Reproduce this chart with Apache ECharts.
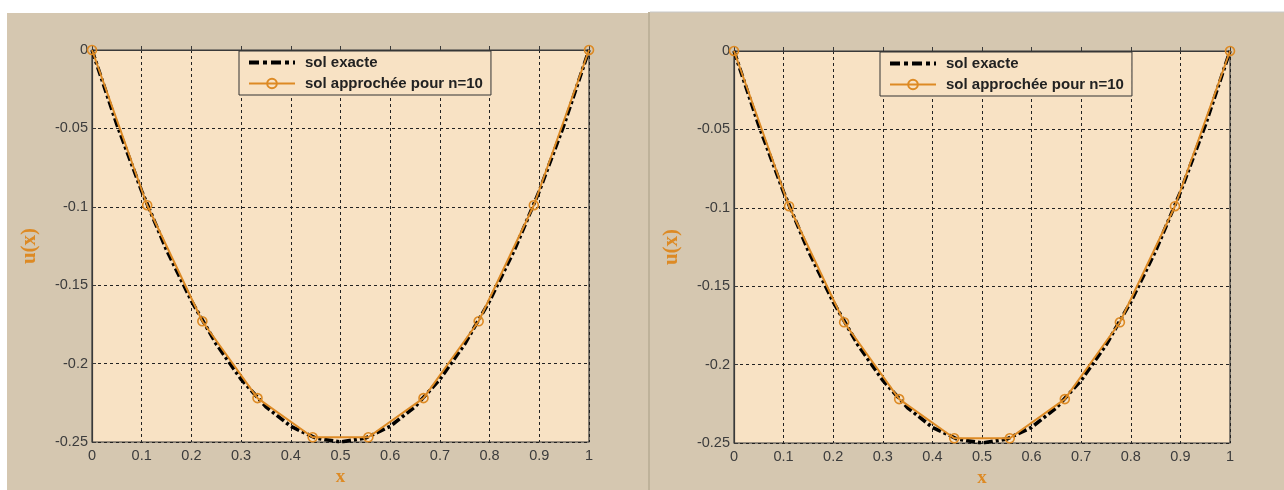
<!DOCTYPE html>
<html>
<head>
<meta charset="utf-8">
<script src="https://cdn.jsdelivr.net/npm/echarts@6/dist/echarts.min.js"></script>
<style>
  html, body { margin: 0; padding: 0; background: #fff; }
  #chart { width: 1284px; height: 490px; }
</style>
</head>
<body>
<div id="chart"></div>
<script>
// exact solution, read on a 0.05 grid
const exactX = [0, 0.05, 0.1, 0.15, 0.2, 0.25, 0.3, 0.35, 0.4, 0.45, 0.5,
  0.55, 0.6, 0.65, 0.7, 0.75, 0.8, 0.85, 0.9, 0.95, 1];
const exactY = [0, -0.0475, -0.09, -0.1275, -0.16, -0.1875, -0.21, -0.2275, -0.24, -0.2475, -0.25,
  -0.2475, -0.24, -0.2275, -0.21, -0.1875, -0.16, -0.1275, -0.09, -0.0475, 0];
// approximated solution, n=10 nodes
const approxX = [0, 0.111, 0.222, 0.333, 0.444, 0.556, 0.667, 0.778, 0.889, 1];
const approxY = [0, -0.099, -0.173, -0.222, -0.247, -0.247, -0.222, -0.173, -0.099, 0];

const names = ["sol exacte", "sol approchée pour n=10"];
const panelBg = "#d5c7b0";
const plotBg = "#f8e2c4";
const orange = "#dd8a24";
const dashDot = [9, 3, 3, 3];

const chart = echarts.init(document.getElementById("chart"));

const grids = [
  { left: 92, top: 50, width: 497, height: 392 },
  { left: 734, top: 51, width: 496, height: 392 }
];

function zip(xs, ys) {
  return xs.map((x, i) => [x, ys[i]]);
}

const xAxes = [], yAxes = [], series = [], legends = [];
grids.forEach((g, i) => {
  xAxes.push({
    gridIndex: i,
    type: "value",
    min: 0,
    max: 1,
    interval: 0.1,
    name: "x",
    nameLocation: "middle",
    nameGap: 26,
    nameTextStyle: { color: orange, fontFamily: "Liberation Serif", fontWeight: "bold", fontSize: 19 },
    axisLine: { lineStyle: { color: "#3a3a3a", width: 1.2 } },
    axisTick: { inside: true, length: 4, lineStyle: { color: "#3a3a3a" } },
    axisLabel: {
      color: "#3c3c3c", fontSize: 14.5, fontFamily: "Liberation Sans", margin: 6,
      formatter: v => String(+v.toFixed(1))
    },
    splitLine: { show: true, lineStyle: { color: "#222", type: [3, 3], width: 1 } }
  });
  yAxes.push({
    gridIndex: i,
    type: "value",
    min: -0.25,
    max: 0,
    interval: 0.05,
    name: "u(x)",
    nameLocation: "middle",
    nameRotate: 90,
    nameGap: 52,
    nameTextStyle: { color: orange, fontFamily: "Liberation Serif", fontWeight: "bold", fontSize: 21 },
    axisLine: { lineStyle: { color: "#3a3a3a", width: 1.2 } },
    axisTick: { inside: true, length: 4, lineStyle: { color: "#3a3a3a" } },
    axisLabel: {
      color: "#3c3c3c", fontSize: 14.5, fontFamily: "Liberation Sans", margin: 4,
      formatter: v => String(+v.toFixed(2))
    },
    splitLine: { show: true, lineStyle: { color: "#222", type: [3, 3], width: 1 } }
  });
  series.push({
    name: names[0],
    type: "line",
    xAxisIndex: i,
    yAxisIndex: i,
    data: zip(exactX, exactY),
    showSymbol: false,
    symbol: "none",
    lineStyle: { color: "#000", width: 3.6, type: dashDot },
    itemStyle: { color: "#000" },
    animation: false,
    z: 3
  });
  series.push({
    name: names[1],
    type: "line",
    xAxisIndex: i,
    yAxisIndex: i,
    data: zip(approxX, approxY),
    symbol: "circle",
    symbolSize: 9,
    clip: false,
    lineStyle: { color: orange, width: 2 },
    itemStyle: { color: "rgba(0,0,0,0)", borderColor: orange, borderWidth: 1.6 },
    animation: false,
    z: 4
  });
  legends.push({
    orient: "vertical",
    left: i === 0 ? 239 : 880,
    top: i === 0 ? 51 : 52,
    data: [
      { name: names[0], itemStyle: { opacity: 0 }, lineStyle: { width: 4, type: [10, 4, 4, 4], color: "#000" } },
      { name: names[1] }
    ],
    backgroundColor: plotBg,
    borderColor: "#333",
    borderWidth: 1,
    padding: [4, 8, 4, 8],
    itemWidth: 46,
    itemHeight: 12,
    itemGap: 6,
    textStyle: { color: "#222", fontSize: 15, fontWeight: "bold", fontFamily: "Liberation Sans", padding: [0, 0, 0, 5] },
    selectedMode: false
  });
});

chart.setOption({
  animation: false,
  graphic: [
    { type: "rect", shape: { x: 7, y: 13, width: 641, height: 477 }, style: { fill: panelBg }, z: -10 },
    { type: "rect", shape: { x: 650, y: 12, width: 634, height: 478 }, style: { fill: panelBg }, z: -10 },
    { type: "line", shape: { x1: 649, y1: 12, x2: 649, y2: 490 }, style: { stroke: "#a89878", lineWidth: 1.5 }, z: -9 },
    { type: "line", shape: { x1: 650, y1: 12, x2: 1284, y2: 12 }, style: { stroke: "#c8c8c8", lineWidth: 1 }, z: -9 }
  ],
  grid: grids.map(g => Object.assign({
    show: true, backgroundColor: plotBg, borderColor: "#3a3a3a", borderWidth: 1.2,
    containLabel: false, outerBoundsMode: "none"
  }, g)),
  legend: legends,
  xAxis: xAxes,
  yAxis: yAxes,
  series: series
});
</script>
</body>
</html>
